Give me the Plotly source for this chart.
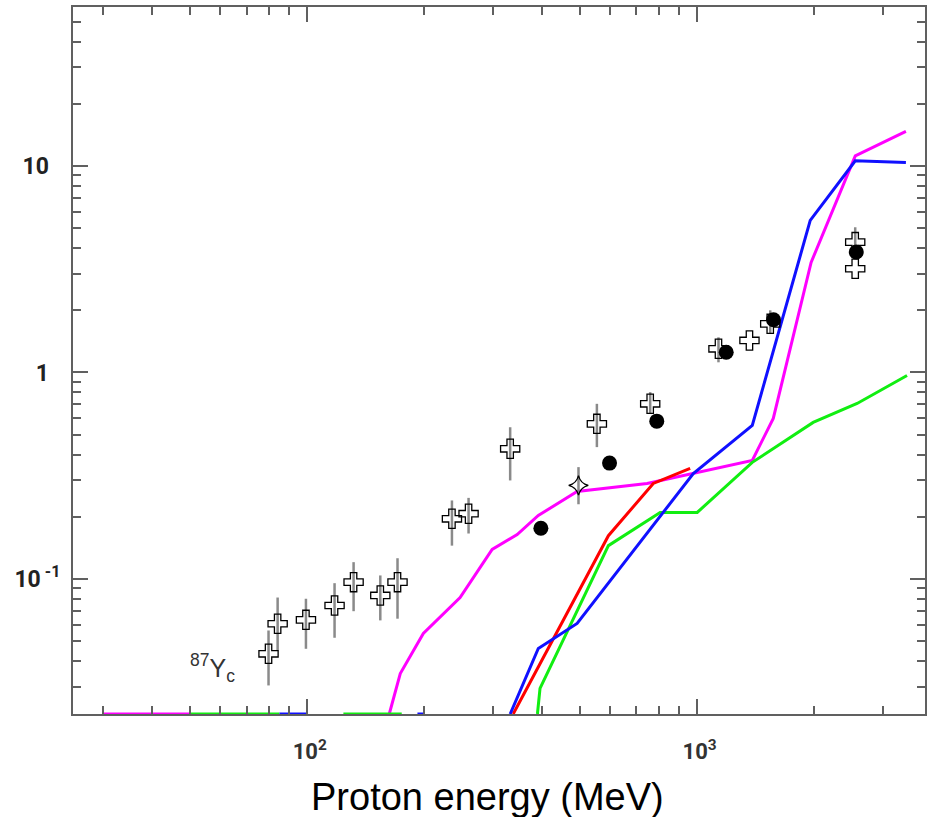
import numpy as np
import plotly.graph_objects as go

# ---- axis limits (log10) ----
X_LOG_RANGE = [1.40, 3.585]
Y_LOG_RANGE = [-1.654, 1.770]
F = 10 ** Y_LOG_RANGE[0]   # curves below the frame are drawn on the lower edge

# ---- model curves (proton energy in MeV, cross section) ----
E_MAG = [30, 50, None, 162.6, 173.5, 198.8, 247, 298.5, 346, 392, 493, 745, 979, 1387, 1570, 1963, 2548, 3436]
Y_MAG = [F, F, None, F, 0.0348, 0.0545, 0.0813, 0.139, 0.164, 0.203, 0.265, 0.290, 0.324, 0.375, 0.599, 3.41, 11.2, 14.7]

E_GRN = [50, 85, None, 124, 175, None, 390, 396, 593, 805, 1002, 1387, 1987, 2576, 3459]
Y_GRN = [F, F, None, F, F, None, F, 0.0295, 0.145, 0.210, 0.210, 0.367, 0.573, 0.708, 0.967]

E_RED = [338, 593, 773, 961]
Y_RED = [F, 0.162, 0.290, 0.343]

E_BLU = [85, 100, None, 192, 200, None, 332, 392, 493, 979, 1387, 1953, 2548, 3436]
Y_BLU = [F, F, None, F, F, None, F, 0.0461, 0.0609, 0.324, 0.554, 5.45, 10.6, 10.4]

# ---- experimental data ----
E_CROSS = [79.7, 84.1, 99.4, 117.7, 131.7, 154.2, 170.7, 235.4, 259.7, 332, 554, 759, 1136, 1364, 1542, 2547, 2547]
Y_CROSS = [0.0434, 0.0607, 0.0634, 0.0744, 0.0965, 0.0832, 0.0965, 0.1956, 0.207, 0.427, 0.564, 0.705, 1.302, 1.429, 1.72, 4.28, 3.18]
HI_CROSS = [0.0563, 0.0813, 0.0802, 0.0954, 0.1206, 0.104, 0.126, 0.240, 0.247, 0.543, 0.705, 0.803, 1.48, 1.429, 2.0, 5.05, 3.18]
LO_CROSS = [0.0305, 0.0451, 0.0459, 0.0519, 0.0698, 0.0630, 0.0642, 0.145, 0.166, 0.300, 0.435, 0.633, 1.12, 1.429, 1.55, 3.9, 3.18]

E_STAR = [497]
Y_STAR = [0.284]
HI_STAR = [0.348]
LO_STAR = [0.230]

E_DOT = [398, 597, 789, 1189, 1572, 2563]
Y_DOT = [0.176, 0.364, 0.581, 1.254, 1.80, 3.83]

X_TICKS = [100, 1000]
X_TICKTEXT = ["\u00a010<sup>2</sup>", "\u00a010<sup>3</sup>"]
Y_TICKS = [0.1, 1, 10]
Y_TICKTEXT = ["10<sup> -1</sup>", "1\u00a0\u00a0", "10\u00a0\u00a0"]

LABEL = "<sup>87</sup>Y<sub>c</sub>"
LABEL_POS = (49.6, 0.0369)
X_TITLE = "Proton energy (MeV)"

FONT = "Arial"
TICK_FONT = "Roboto"

fig = go.Figure()

def line(x, y, color):
    fig.add_trace(go.Scatter(x=x, y=y, mode="lines", line=dict(color=color, width=3),
                             connectgaps=False, showlegend=False, hoverinfo="skip"))

line(E_MAG, Y_MAG, "#ff00ff")
line(E_GRN, Y_GRN, "#11ee11")
line(E_RED, Y_RED, "#ff0000")
line(E_BLU, Y_BLU, "#1010ff")

def errs(y, hi, lo):
    y = np.array(y); hi = np.array(hi); lo = np.array(lo)
    return dict(type="data", symmetric=False, array=hi - y, arrayminus=y - lo,
                color="#8a8a8a", thickness=2.5, width=0)

fig.add_trace(go.Scatter(x=E_CROSS, y=Y_CROSS, mode="markers",
                         marker=dict(symbol="cross-open", size=16, color="black",
                                     line=dict(color="black", width=1.3)),
                         error_y=errs(Y_CROSS, HI_CROSS, LO_CROSS), showlegend=False))
fig.add_trace(go.Scatter(x=E_STAR, y=Y_STAR, mode="markers",
                         marker=dict(symbol="star-diamond-open", size=14, color="black",
                                     line=dict(color="black", width=1.3)),
                         error_y=errs(Y_STAR, HI_STAR, LO_STAR), showlegend=False))
fig.add_trace(go.Scatter(x=E_DOT, y=Y_DOT, mode="markers",
                         marker=dict(symbol="circle", size=15, color="black"),
                         showlegend=False))

fig.add_annotation(x=np.log10(LABEL_POS[0]), y=np.log10(LABEL_POS[1]), xref="x", yref="y",
                   text=LABEL, showarrow=False, xanchor="left", yanchor="middle",
                   font=dict(family=FONT, size=25, color="#333333"))

# x-axis title placed as centred text below the axis
fig.add_annotation(x=0.4865, y=-0.118, xref="paper", yref="paper", text=X_TITLE,
                   showarrow=False, xanchor="center", yanchor="middle",
                   font=dict(family=FONT, size=38, color="black"))

minor_x = [m * 10 ** d for d in (1, 2, 3) for m in range(2, 10)]
minor_y = [m * 10 ** d for d in (-2, -1, 0, 1) for m in range(2, 10)]

axis_common = dict(type="log", showgrid=False, zeroline=False, showline=True,
                   linecolor="#606060", linewidth=2, mirror="allticks",
                   ticks="inside", ticklen=15, tickwidth=2, tickcolor="#606060",
                   tickmode="array")

fig.update_xaxes(range=X_LOG_RANGE, tickvals=X_TICKS, ticktext=X_TICKTEXT,
                 minor=dict(tickmode="array", tickvals=minor_x, ticks="inside", ticklen=8,
                            tickwidth=2, tickcolor="#606060", showgrid=False),
                 tickfont=dict(family=TICK_FONT, size=22, color="#333333", weight="bold"),
                 ticklabelstandoff=17,
                 **axis_common)
fig.update_yaxes(range=Y_LOG_RANGE, tickvals=Y_TICKS, ticktext=Y_TICKTEXT,
                 minor=dict(tickmode="array", tickvals=minor_y, ticks="inside", ticklen=8,
                            tickwidth=2, tickcolor="#606060", showgrid=False),
                 tickfont=dict(family=TICK_FONT, size=23, color="#222222", weight="bold"),
                 ticklabelstandoff=6,
                 **axis_common)

fig.update_layout(width=938, height=817, margin=dict(l=73, r=13, t=7, b=103, autoexpand=False),
                  plot_bgcolor="white", paper_bgcolor="white", showlegend=False)

fig.write_html("out.html")
